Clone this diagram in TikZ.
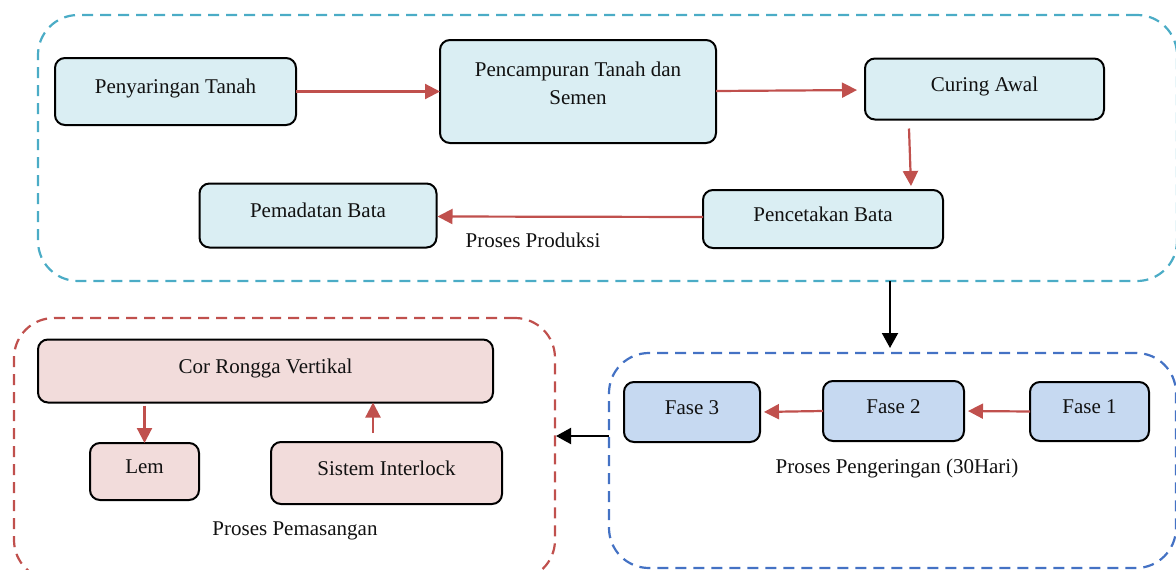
\documentclass[tikz,border=0pt]{standalone}
\usepackage{fontspec}
\setmainfont{Liberation Serif}
\usetikzlibrary{arrows.meta,positioning,calc}
\definecolor{boxblue}{HTML}{DAEEF3}
\definecolor{frcyan}{HTML}{4BACC6}
\definecolor{fasefill}{HTML}{C6D9F1}
\definecolor{frblue}{HTML}{4472C4}
\definecolor{frred}{HTML}{C0504D}
\definecolor{pinkfill}{HTML}{F2DCDB}
\definecolor{arrred}{HTML}{C0504D}
\definecolor{txt}{HTML}{111111}
\begin{document}
\begin{tikzpicture}[x=1pt,y=-1pt,
  every node/.style={font=\fontsize{21}{25}\selectfont, text=txt},
  procbox/.style={draw=black, line width=2pt, rounded corners=10pt, inner sep=0pt, outer sep=0pt,
    text height=15pt, text depth=11pt},
  bluebox/.style={procbox, fill=boxblue},
  fasebox/.style={procbox, fill=fasefill},
  pinkbox/.style={procbox, fill=pinkfill},
  frame/.style={line width=2.2pt, dash pattern=on 11pt off 7pt, rounded corners=40pt, inner sep=0pt, outer sep=0pt},
  redarr/.style={draw=arrred, line width=2.2pt, -{Triangle[length=15pt,width=15pt]}},
  blkarr/.style={draw=black, line width=2pt, -{Triangle[length=15pt,width=16pt]}},
  caption/.style={inner sep=0pt}
]
\useasboundingbox (0,0) rectangle (1176,570);
% frames
\node[frame, draw=frcyan, minimum width=1139pt, minimum height=266pt] (prod) at (607.5,148) {};
\node[frame, draw=frblue, minimum width=567pt, minimum height=215pt] (peng) at (892.5,460.5) {};
\node[frame, draw=frred, minimum width=541pt, minimum height=262pt] (pem) at (284.5,449) {};
% produksi
\node[bluebox, minimum width=241pt, minimum height=67pt] (pen) at (175.5,91.5) {Penyaringan Tanah};
\node[bluebox, minimum width=276pt, minimum height=103pt,
  label={[name=pcmtxt, align=center, yshift=8pt, font=\fontsize{21}{28}\selectfont, text=txt]center:Pencampuran Tanah dan\\Semen}] (pcm) at (578,91.5) {};
\node[bluebox, minimum width=239pt, minimum height=61pt] (cur) at (984.5,89) {Curing Awal};
\node[bluebox, minimum width=240pt, minimum height=58pt] (pct) at (823,219) {Pencetakan Bata};
\node[bluebox, minimum width=237pt, minimum height=64pt] (pmd) at (318,215.5) {Pemadatan Bata};
\node[caption] (lprod) at (533,240) {Proses Produksi};
% pengeringan
\node[fasebox, minimum width=136pt, minimum height=60pt] (f3) at (692,412) {Fase 3};
\node[fasebox, minimum width=141pt, minimum height=60pt] (f2) at (893.5,411) {Fase 2};
\node[fasebox, minimum width=119pt, minimum height=59pt] (f1) at (1089.5,411.5) {Fase 1};
\node[caption] (lpeng) at (897,468) {Proses Pengeringan (30Hari)};
% pemasangan
\node[pinkbox, minimum width=455pt, minimum height=63pt] (cor) at (265.5,371) {Cor Rongga Vertikal};
\node[pinkbox, minimum width=109pt, minimum height=57pt] (lem) at (144.5,471.5) {Lem};
\node[pinkbox, minimum width=231pt, minimum height=62pt] (sis) at (386.5,473) {Sistem Interlock};
\node[caption] (lpem) at (295,531) {Proses Pemasangan};
% red arrows
\draw[redarr] (pen.east) -- (pen.east -| pcm.west);
\draw[redarr, shorten >=8pt] (pcm.east |- 0,91) -- (cur.west |- 0,90);
\draw[redarr] ([xshift=-75.5pt,yshift=-9pt]cur.south) -- ([xshift=88pt,yshift=4pt]pct.north);
\draw[redarr, shorten >=1pt] ([yshift=2pt]pct.west) -- ([yshift=-1pt]pmd.east);
\draw[redarr, shorten >=4pt] (f1.west) -- (f2.east);
\draw[redarr, shorten >=4pt] (f2.west) -- (f3.east);
\draw[redarr, shorten <=3pt] (cor.south -| lem.north) -- (lem.north);
\draw[redarr, shorten <=9pt] ([xshift=-13.5pt]sis.north) -- (cor.south -| 373,0);
% black arrows
\draw[blkarr, shorten >=5pt] (prod.south -| 890,0) -- (peng.north -| 890,0);
\draw[blkarr, shorten >=1pt] (peng.west |- 0,436) -- (pem.east |- 0,436);
\end{tikzpicture}
\end{document}
